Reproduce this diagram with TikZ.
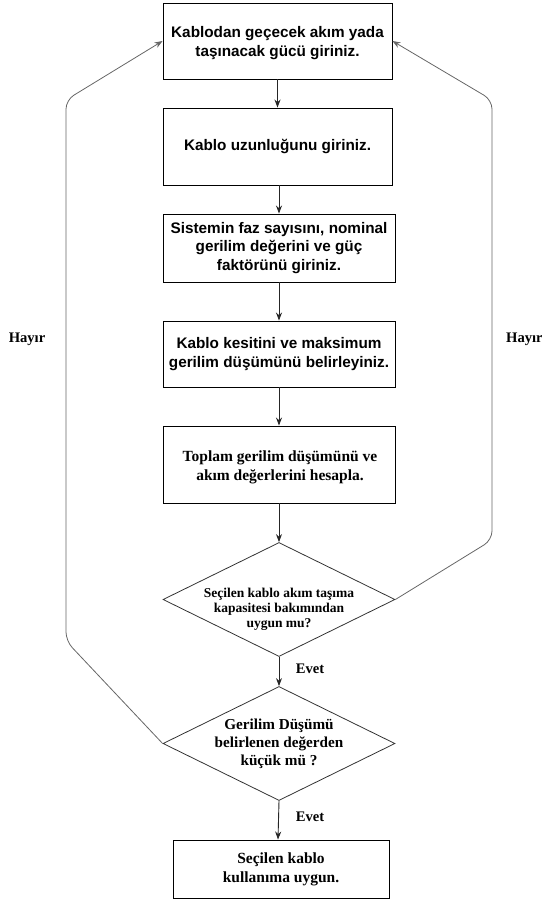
\documentclass[tikz,border=0pt]{standalone}
\usepackage{fontspec}
\setmainfont{Liberation Serif}
\newfontfamily\arialf{Liberation Sans}
\usetikzlibrary{arrows.meta,shapes.geometric}
\tikzset{
  sbox/.style={draw=black, line width=0.9pt, inner sep=0pt, align=center, font=\arialf\bfseries\fontsize{15.3}{18.5}\selectfont},
  tbox/.style={draw=black, line width=0.9pt, inner sep=0pt, align=center, font=\bfseries\fontsize{15.5}{19}\selectfont},
  dshape/.style={draw=black!80, line width=0.8pt, diamond, inner sep=0pt, minimum width=232pt, minimum height=114pt},
  dtexta/.style={align=center, inner sep=0pt, font=\bfseries\fontsize{13.5}{15}\selectfont},
  dtextb/.style={align=center, inner sep=0pt, font=\bfseries\fontsize{15.2}{18}\selectfont},
  lbl/.style={inner sep=0pt, font=\bfseries\fontsize{14.6}{16}\selectfont},
  arr/.style={draw=black!85, line width=0.9pt, -{Stealth[length=8pt,width=6pt]}},
  loop/.style={draw=black!60, line width=0.8pt, rounded corners=9pt, -{Stealth[length=8pt,width=6pt]}}
}
\begin{document}
\begin{tikzpicture}[x=1pt,y=-1pt]
\useasboundingbox (0,0) rectangle (541,902);
\clip (0,0) rectangle (541,902);
\node[sbox, minimum width=229pt, minimum height=76pt] (b1) at (277.5,41) {};
\node[sbox, draw=none] (b1t) at (277.5,43) {Kablodan geçecek akım yada\\taşınacak gücü giriniz.};
\node[sbox, minimum width=229pt, minimum height=77pt] (b2) at (277.5,146.5) {Kablo uzunluğunu giriniz.};
\node[sbox, minimum width=232pt, minimum height=68pt] (b3) at (279,248) {Sistemin faz sayısını, nominal\\gerilim değerini ve güç\\faktörünü giriniz.};
\node[sbox, minimum width=232pt, minimum height=66pt] (b4) at (279,354) {Kablo kesitini ve maksimum\\gerilim düşümünü belirleyiniz.};
\node[tbox, minimum width=232pt, minimum height=77pt] (b5) at (279,464.5) {};
\node[tbox, draw=none] (b5t) at (280,467) {Toplam gerilim düşümünü ve\\akım değerlerini hesapla.};
\node[dshape] (d1) at (279,599.5) {};
\node[dtexta] (t1) at (279,609) {Seçilen kablo akım taşıma\\kapasitesi bakımından\\uygun mu?};
\node[dshape] (d2) at (279,743.5) {};
\node[dtextb] (t2) at (279,744) {Gerilim Düşümü\\belirlenen değerden\\küçük mü ?};
\node[tbox, minimum width=216pt, minimum height=58pt] (b6) at (281,869) {Seçilen kablo\\kullanıma uygun.};
\node[lbl] (h1) at (27,339) {Hayır};
\node[lbl, anchor=west] (h2) at (506,339) {Hayır};
\node[lbl] (e1) at (310,669) {Evet};
\node[lbl] (e2) at (310,817) {Evet};
\coordinate (l1) at (66,641);
\coordinate (l2) at (66,100);
\coordinate (r1) at (492,540);
\coordinate (r2) at (492,100);
\draw[arr] (b1.south -| 277.5,0) -- (b2.north -| 277.5,0);
\draw[arr] (b2.south -| 279,0) -- (b3.north -| 279,0);
\draw[arr] (b3) -- (b4);
\draw[arr] (b4) -- (b5);
\draw[arr] (b5) -- (d1.north);
\draw[arr] (d1.south) -- (d2.north);
\draw[arr] (d2.south) -- (b6.north -| 278,0);
\draw[loop] (d2.west) -- (l1) -- (l2) -- (b1.west);
\draw[loop] (d1.east) -- (r1) -- (r2) -- (b1.east);
\end{tikzpicture}
\end{document}
